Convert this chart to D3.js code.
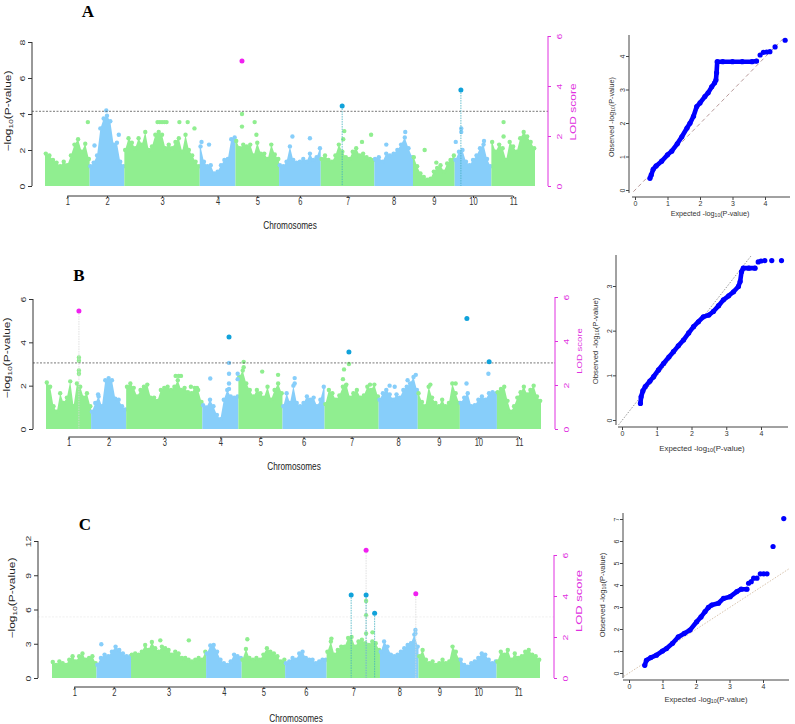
<!DOCTYPE html>
<html>
<head>
<meta charset="utf-8">
<script src="https://cdn.jsdelivr.net/npm/d3@7"></script>
<style>
body { margin: 0; background: #fff; }
svg { display: block; }
</style>
</head>
<body>
<script>
var chromNames = ["1","2","3","4","5","6","7","8","9","10","11"];
var chromLen = [45,35,76,36,44,42,54,39,42,37,44];

// upper edge of the dense point cloud per chromosome (-log10 p), left to right
var envA = [
  [1.8,1.7,1.45,1.3,1.1,1.35,1.15,1.7,2.3,2.6,1.9,2.35,1.5],
  [1.1,1.3,1.7,3.2,3.75,3.9,3.6,2.3,2.4,1.35,1.1],
  [2.0,2.65,2.4,2.1,2.65,2.3,3.0,2.0,2.2,2.85,3.0,2.85,2.1,2.3,2.1,2.45,2.65,1.9,2.85,2.0,1.7,1.35,1.1],
  [2.2,1.35,1.1,1.15,0.7,0.8,1.15,1.45,1.5,2.6,2.7],
  [2.5,2.1,2.3,2.2,2.3,1.7,2.4,1.8,1.8,1.5,2.3,1.75,1.5],
  [1.15,1.1,1.35,2.2,1.45,1.3,1.35,1.5,1.35,1.8,1.45,1.6,2.1],
  [1.5,1.7,1.45,1.35,1.7,2.3,1.9,1.6,1.5,1.9,2.1,1.7,1.8,1.6,1.5,1.45],
  [1.5,1.6,1.35,1.8,1.7,1.8,2.0,2.3,2.7,2.1,1.6],
  [1.6,1.1,0.7,0.5,0.35,0.4,0.8,1.0,1.15,0.8,1.25,1.45,1.7],
  [1.45,1.9,2.0,1.35,1.15,1.45,1.7,2.1,2.3,1.5,1.1],
  [2.45,1.9,2.3,2.1,1.45,2.45,2.2,1.9,2.65,3.0,2.75,2.45,2.1]
];
// loose markers above the cloud: [chromosome, position in chromosome 0-1, -log10 p]
var dotsA = [[1,0.96,3.55],[2,0.48,4.2],[2,0.84,2.85],[2,0.14,2.25],[3,0.44,3.55],[3,0.47,3.55],[3,0.5,3.55],
  [3,0.53,3.55],[3,0.56,3.55],[3,0.73,3.55],[3,0.84,3.55],[3,0.93,3.2],[4,0.05,2.45],[4,0.26,2.3],
  [5,0.15,4.0],[5,0.15,3.3],[5,0.44,3.55],[5,0.48,2.85],[6,0.32,2.75],[6,0.74,2.65],[7,0.44,3.05],
  [7,0.42,2.6],[7,0.94,2.85],[7,0.77,2.45],[8,0.8,3.0],[8,0.31,2.3],[9,0.28,2.0],[9,0.56,1.3],
  [10,0.18,3.2],[10,0.18,3.0],[10,0.03,2.45],[10,0.8,2.5],[11,0.28,3.55],[11,0.28,2.75]];
// significant hits: [chromosome, position, value, m=LOD / c=SNP, stem 0 none 1 solid 2 faint]
var hitsA = [[5,0.15,6.94,"m",0],[7,0.4,4.44,"c",1],[10,0.17,5.33,"c",1]];

var envB = [
  [2.15,1.95,1.05,0.8,1.65,1.2,1.45,2.2,1.05,2.1,1.95,1.45,1.65,1.05],
  [0.8,1.2,1.5,1.05,2.25,2.35,2.25,1.4,1.35,1.05,0.9],
  [1.95,2.1,1.9,1.5,1.8,1.95,2.05,1.45,1.45,1.3,1.8,1.9,1.95,1.8,1.95,2.25,1.8,1.9,1.7,1.65,1.9,1.8,1.25],
  [1.1,1.0,1.35,1.05,0.65,0.45,1.35,1.8,1.5,1.45,1.5],
  [2.4,2.7,2.1,1.8,1.5,1.8,1.65,1.45,1.95,1.35,1.8,2.1,1.65],
  [1.05,1.65,1.2,2.0,1.2,1.05,1.2,1.5,1.35,1.45,1.05,1.35,1.95],
  [1.15,1.8,1.65,1.35,1.55,1.95,2.05,1.45,1.65,1.8,1.45,1.55,1.95,1.8,2.05,1.5],
  [1.35,1.65,1.8,1.6,1.35,1.6,1.45,1.8,1.95,2.1,2.4,1.8],
  [1.65,1.25,1.05,1.95,1.45,1.2,1.05,1.35,1.05,1.2,2.1,1.65,1.2],
  [1.2,1.45,1.65,1.05,1.1,1.35,1.5,1.35,1.65,1.7,1.65],
  [1.7,1.85,1.95,1.3,0.8,1.05,1.45,1.7,1.95,1.6,1.8,2.0,1.5,1.3]
];
var dotsB = [[1,0.73,3.3],[1,0.73,3.15],[1,0.73,2.7],[1,0.73,2.55],[2,0.2,1.6],[3,0.65,2.45],[3,0.69,2.45],
  [3,0.72,2.45],[3,0.85,1.95],[3,0.93,1.9],[4,0.22,2.33],[4,0.74,3.05],[4,0.74,2.55],[4,0.74,2.1],
  [4,0.74,1.85],[4,0.98,2.55],[4,0.98,2.3],[5,0.12,3.1],[5,0.12,2.85],[5,0.54,2.65],[5,0.9,2.5],
  [6,0.29,2.35],[6,0.29,2.1],[7,0.45,3.0],[7,0.36,2.75],[7,0.34,2.3],[7,0.39,2.0],[7,0.84,2.05],
  [8,0.28,2.0],[8,0.41,1.95],[8,0.74,2.25],[8,0.95,2.5],[9,0.3,2.05],[9,0.9,2.1],[10,0.77,2.55],[10,0.18,2.1]];
var hitsB = [[1,0.73,5.45,"m",2],[4,0.74,4.25,"c",0],[7,0.45,3.55,"c",0],[10,0.19,5.1,"c",0],[10,0.79,3.1,"c",0]];

var envC = [
  [1.4,1.15,1.45,1.3,1.15,1.6,1.9,1.45,1.9,2.15,1.6,1.75,1.9,1.3],
  [1.15,1.75,2.05,1.9,2.3,2.75,2.45,2.15,1.9,1.9],
  [2.05,2.15,2.05,2.3,2.9,2.45,3.15,2.6,2.3,2.75,2.6,2.45,2.05,2.3,2.15,1.75,1.75,1.6,1.45,1.6,1.75,1.6,2.3],
  [2.15,2.85,2.9,2.3,1.6,1.3,1.15,1.45,2.05,1.9,1.75],
  [1.6,2.55,1.75,1.6,1.75,1.6,2.05,2.6,2.3,2.15,1.9,1.45,1.6],
  [1.3,1.45,1.75,1.6,2.15,2.3,1.75,1.6,1.6,1.3,1.45,1.6,1.6],
  [2.3,3.2,2.05,2.45,2.75,2.75,3.5,3.6,2.75,3.2,3.35,3.05,2.9,3.2,3.05,2.45],
  [2.3,3.2,2.75,2.05,1.9,2.05,2.3,2.6,2.9,3.05,3.8,2.75],
  [1.9,2.45,1.6,1.3,1.45,1.15,1.3,1.6,1.3,1.45,2.75,2.3,1.6],
  [1.6,1.15,1.0,1.3,1.45,1.75,2.15,2.05,1.6,1.3,1.45],
  [1.45,2.3,2.05,2.45,1.6,2.15,1.75,1.9,2.3,2.45,2.05,1.9,1.6]
];
var dotsC = [[2,0.14,2.95],[3,0.39,3.3],[3,0.77,3.3],[5,0.13,3.4],[7,0.74,6.75],[7,0.74,5.5],[7,0.74,3.9],
  [7,0.86,4.0],[7,0.09,3.45],[8,0.92,4.2],[8,0.92,3.9]];
var hitsC = [[7,0.46,7.28,"c",1],[7,0.74,11.2,"m",2],[7,0.74,7.28,"c",1],[7,0.9,5.67,"c",1],[8,0.93,7.37,"m",2]];

// QQ plots: [expected, observed]; dense part drawn as a band, tail as single dots
var qqLineA = [[0.46,0.35],[0.5,0.45],[0.56,0.62],[0.65,0.72],[0.82,0.86],[1.0,1.05],[1.13,1.16],[1.3,1.38],
  [1.44,1.59],[1.6,1.85],[1.69,1.99],[1.8,2.2],[1.9,2.49],[2.0,2.6],[2.15,2.79],[2.25,2.9],[2.36,3.08],
  [2.45,3.2],[2.49,3.28],[2.51,3.5],[2.53,3.83],[2.7,3.83],[3.0,3.83],[3.3,3.83],[3.6,3.83],[3.74,3.85]];
var qqTailA = [[3.85,4.03],[3.95,4.11],[4.05,4.12],[4.15,4.13],[4.31,4.27],[4.62,4.47]];
var qqLineB = [[0.53,0.37],[0.55,0.52],[0.6,0.65],[0.67,0.75],[0.8,0.87],[0.91,0.97],[1.05,1.12],[1.2,1.27],
  [1.35,1.41],[1.48,1.53],[1.62,1.66],[1.77,1.79],[1.92,1.95],[2.06,2.09],[2.2,2.2],[2.34,2.31],[2.5,2.35],
  [2.63,2.43],[2.78,2.56],[2.92,2.69],[3.07,2.78],[3.21,2.87],[3.35,2.99],[3.4,3.1],[3.44,3.32],[3.49,3.4],
  [3.65,3.4],[3.83,3.4]];
var qqTailB = [[3.92,3.54],[4.0,3.56],[4.11,3.57],[4.31,3.57],[4.59,3.57]];
var qqLineC = [[0.47,0.35],[0.52,0.58],[0.65,0.7],[0.82,0.81],[1.0,1.0],[1.12,1.11],[1.3,1.35],[1.47,1.64],
  [1.65,1.8],[1.82,1.95],[2.02,2.33],[2.15,2.55],[2.27,2.79],[2.37,2.98],[2.47,3.09],[2.67,3.17],[2.82,3.39],
  [3.02,3.47],[3.22,3.7],[3.35,3.81],[3.52,3.81]];
var qqTailC = [[3.57,4.08],[3.65,4.15],[3.72,4.31],[3.82,4.31],[3.92,4.51],[4.02,4.51],[4.12,4.51],[4.3,5.75],[4.62,7.02]];
var diagA = [[-0.05,-0.05],[4.62,4.58]];
var diagB = [[-0.1,-0.11],[3.73,3.69]];
var diagC = [[-0.15,-0.15],[4.8,4.76]];

var GREEN = "#90ee90", BLUE = "#87cefa", MAG = "#f020f0", CYAN = "#10a2da", LODCOL = "#e030e0";
var FONT = "'Liberation Sans', Arial, sans-serif";

var svg = d3.select("body").append("svg")
    .attr("width", 795)
    .attr("height", 724)
    .style("font-family", FONT);

var chromStart = [];
var acc = 0;
chromLen.forEach(function(l){ chromStart.push(acc); acc += l; });
var genomeLen = acc;
function gpos(chr, frac){ return chromStart[chr-1] + frac*chromLen[chr-1]; }

// text like "-log10(P-value)" with subscript
function logText(g, pre, tf, size, fill){
  var t = g.append("text")
    .attr("transform", tf)
    .attr("text-anchor", "middle")
    .attr("dominant-baseline", "central")
    .attr("font-size", size)
    .attr("fill", fill || "#222");
  t.append("tspan").text(pre + "log");
  t.append("tspan").attr("font-size", size*0.7).attr("dy", size*0.3).text("10");
  t.append("tspan").attr("dy", -size*0.3).text("(P-value)");
  return t;
}

function drawManhattan(p){
  var g = svg.append("g");
  var x = d3.scaleLinear().domain([0, genomeLen]).range([p.x0, p.x1]);
  var y = d3.scaleLinear().domain([0, p.ymax]).range([p.yb, p.yt]);
  var lod = d3.scaleLinear().domain([0, 6]).range([p.yb, p.lodTop]);
  var area = d3.area().x(function(d){ return x(d[0]); }).y0(y(0)).y1(function(d){ return y(d[1]); });

  p.env.forEach(function(vals, ci){
    var col = ci % 2 ? BLUE : GREEN;
    var s = chromStart[ci], L = chromLen[ci];
    var pts = vals.map(function(v, i){ return [s + 0.8 + (L - 1.6)*i/(vals.length - 1), v]; });
    var full = [[s, pts[0][1]]].concat(pts, [[s + L, pts[pts.length-1][1]]]);
    g.append("path").datum(full).attr("d", area).attr("fill", col);
    g.append("g").selectAll("circle").data(pts).join("circle")
      .attr("cx", function(d){ return x(d[0]); })
      .attr("cy", function(d){ return y(d[1]); })
      .attr("r", 2.2).attr("fill", col);
  });

  g.append("g").selectAll("circle").data(p.dots).join("circle")
    .attr("cx", function(d){ return x(gpos(d[0], d[1])); })
    .attr("cy", function(d){ return y(d[2]); })
    .attr("r", 2.2)
    .attr("fill", function(d){ return (d[0]-1) % 2 ? BLUE : GREEN; });

  // threshold
  g.append("line")
    .attr("x1", p.yAxisX).attr("x2", p.lodAxisX)
    .attr("y1", y(p.thr)).attr("y2", y(p.thr))
    .attr("stroke", p.thrColor).attr("stroke-width", 0.8).attr("stroke-dasharray", "2,1.5");

  // stems + hits
  g.append("g").selectAll("line").data(p.hits.filter(function(h){ return h[4]; })).join("line")
    .attr("x1", function(d){ return x(gpos(d[0], d[1])); })
    .attr("x2", function(d){ return x(gpos(d[0], d[1])); })
    .attr("y1", function(d){ return y(d[2]); })
    .attr("y2", y(0))
    .attr("stroke", function(d){ return d[4] === 1 ? "#40b0c0" : "#d8d8d8"; })
    .attr("stroke-width", 0.8)
    .attr("stroke-dasharray", "1.5,1");
  g.append("g").selectAll("circle").data(p.hits).join("circle")
    .attr("cx", function(d){ return x(gpos(d[0], d[1])); })
    .attr("cy", function(d){ return y(d[2]); })
    .attr("r", 2.5)
    .attr("fill", function(d){ return d[3] === "m" ? MAG : CYAN; });

  // left axis
  var ya = g.append("g").attr("transform", "translate(" + p.yAxisX + ",0)")
    .call(d3.axisLeft(y).tickValues(p.yticks).tickSize(4).tickSizeOuter(0).tickFormat(d3.format("d")));
  ya.attr("font-family", FONT);
  ya.select(".domain").attr("d", "M0," + y(0) + "V" + y(p.ymax)).attr("stroke", "#333");
  ya.selectAll(".tick line").attr("stroke", "#333");
  ya.selectAll("text").attr("x", 0).attr("dy", 0)
    .attr("text-anchor", "middle").attr("dominant-baseline", "central")
    .attr("transform", "translate(-9,0) rotate(-90) scale(1,0.72)")
    .attr("font-size", 10.5).attr("fill", "#333");

  // right LOD axis
  var la = g.append("g").attr("transform", "translate(" + p.lodAxisX + ",0)")
    .call(d3.axisRight(lod).tickValues([0,2,4,6]).tickSize(3).tickSizeOuter(0).tickFormat(d3.format("d")));
  la.attr("font-family", FONT);
  la.select(".domain").attr("d", "M0," + lod(0) + "V" + lod(6)).attr("stroke", LODCOL);
  la.selectAll(".tick line").attr("stroke", LODCOL);
  la.selectAll("text").attr("x", 0).attr("dy", 0)
    .attr("text-anchor", "middle").attr("dominant-baseline", "central")
    .attr("transform", "translate(12,0) rotate(-90) scale(1,0.72)")
    .attr("font-size", 10.5).attr("fill", LODCOL);

  // chromosome axis
  var centers = chromStart.map(function(s, i){ return s + chromLen[i]/2; });
  var xa = g.append("g").attr("transform", "translate(0," + p.xAxisY + ")")
    .call(d3.axisBottom(x).tickValues(centers).tickSize(2).tickSizeOuter(0)
      .tickFormat(function(d, i){ return chromNames[i]; }));
  xa.attr("font-family", FONT);
  xa.select(".domain").attr("d", "M" + x(centers[0]) + ",0H" + x(centers[centers.length-1])).attr("stroke", "#333");
  xa.selectAll(".tick line").attr("stroke", "#333");
  xa.selectAll("text").attr("y", 9).attr("dy", 0)
    .attr("transform", "scale(0.72,1)").attr("font-size", 10.5).attr("fill", "#333");

  g.append("text")
    .attr("transform", "translate(" + p.chromLabX + "," + p.chromLabY + ") scale(0.75,1)")
    .attr("text-anchor", "middle").attr("font-size", 11).attr("fill", "#222")
    .text("Chromosomes");

  logText(g, "\u2212", "translate(" + p.yLabX + "," + p.yLabY + ") rotate(-90) scale(1,0.72)", 12, "#222");

  g.append("text")
    .attr("transform", "translate(" + p.lodLabX + "," + p.lodLabY + ") rotate(-90) scale(1,0.72)")
    .attr("text-anchor", "middle").attr("dominant-baseline", "central")
    .attr("font-size", p.lodLabSize).attr("fill", LODCOL)
    .text("LOD score");

  g.append("text")
    .attr("x", p.letterX).attr("y", p.letterY)
    .attr("text-anchor", "middle")
    .attr("font-family", "'Liberation Serif', 'Times New Roman', serif")
    .attr("font-weight", "bold").attr("font-size", 17)
    .text(p.letter);
}

function drawQQ(q){
  var g = svg.append("g");
  var x = d3.scaleLinear().domain([0, 4]).range([q.x0, q.x4]);
  var y = d3.scaleLinear().domain([0, q.ytop]).range([q.y0, q.yt]);

  var xa = g.append("g").attr("transform", "translate(0," + q.axY + ")")
    .call(d3.axisBottom(x).tickValues([0,1,2,3,4]).tickSize(3).tickSizeOuter(0).tickFormat(d3.format("d")));
  xa.attr("font-family", FONT);
  xa.select(".domain").attr("d", "M" + q.axXl + ",0H" + q.axXr).attr("stroke", "#444");
  xa.selectAll(".tick line").attr("stroke", "#444");
  xa.selectAll("text").attr("y", 9).attr("dy", 0).attr("font-size", 7).attr("fill", "#333");

  var ya = g.append("g").attr("transform", "translate(" + q.axX + ",0)")
    .call(d3.axisLeft(y).tickValues(d3.range(0, q.ytick + 1)).tickSize(3).tickSizeOuter(0).tickFormat(d3.format("d")));
  ya.attr("font-family", FONT);
  ya.select(".domain").attr("d", "M0," + q.axYb + "V" + q.axYt).attr("stroke", "#444");
  ya.selectAll(".tick line").attr("stroke", "#444");
  ya.selectAll("text").attr("x", 0).attr("dy", 0)
    .attr("text-anchor", "middle").attr("dominant-baseline", "central")
    .attr("transform", "translate(-7,0) rotate(-90)")
    .attr("font-size", 7).attr("fill", "#333");

  g.append("line")
    .attr("x1", x(q.diag[0][0])).attr("y1", y(q.diag[0][1]))
    .attr("x2", x(q.diag[1][0])).attr("y2", y(q.diag[1][1]))
    .attr("stroke", q.diagColor).attr("stroke-width", 1).attr("stroke-dasharray", q.diagDash);

  var line = d3.line().x(function(d){ return x(d[0]); }).y(function(d){ return y(d[1]); });
  g.append("path").datum(q.line).attr("d", line)
    .attr("fill", "none").attr("stroke", "#0000ff").attr("stroke-width", 4.6)
    .attr("stroke-linejoin", "round").attr("stroke-linecap", "round");
  g.append("g").selectAll("circle").data(q.line.concat(q.tail)).join("circle")
    .attr("cx", function(d){ return x(d[0]); })
    .attr("cy", function(d){ return y(d[1]); })
    .attr("r", 2.6).attr("fill", "#0000ff");

  logText(g, "Expected -", "translate(" + q.expX + "," + q.expY + ")", q.labSize, "#333");
  logText(g, "Observed -", "translate(" + q.obsX + "," + q.obsY + ") rotate(-90)", q.labSize, "#333");
}

drawManhattan({env: envA, dots: dotsA, hits: hitsA, ymax: 8, yticks: [0,2,4,6,8], thr: 4.15, thrColor: "#555",
  x0: 45, x1: 535, yb: 186, yt: 42, lodTop: 36, yAxisX: 32, lodAxisX: 548, xAxisY: 196,
  chromLabX: 290, chromLabY: 229, yLabX: 8, yLabY: 111, lodLabX: 573, lodLabY: 112, lodLabSize: 12,
  letter: "A", letterX: 88, letterY: 17});
drawManhattan({env: envB, dots: dotsB, hits: hitsB, ymax: 6, yticks: [0,2,4,6], thr: 3.05, thrColor: "#555",
  x0: 46, x1: 541, yb: 429, yt: 299, lodTop: 297, yAxisX: 33, lodAxisX: 555, xAxisY: 437,
  chromLabX: 294, chromLabY: 470, yLabX: 7, yLabY: 358, lodLabX: 580, lodLabY: 351, lodLabSize: 9.5,
  letter: "B", letterX: 79, letterY: 281});
drawManhattan({env: envC, dots: dotsC, hits: hitsC, ymax: 12, yticks: [0,3,6,9,12], thr: 5.35, thrColor: "#ececec",
  x0: 52, x1: 540, yb: 678, yt: 541, lodTop: 555, yAxisX: 38, lodAxisX: 554, xAxisY: 687,
  chromLabX: 296, chromLabY: 722, yLabX: 12, yLabY: 598, lodLabX: 579, lodLabY: 601, lodLabSize: 13,
  letter: "C", letterX: 85, letterY: 530});

drawQQ({line: qqLineA, tail: qqTailA, diag: diagA, diagColor: "#b89a9a", diagDash: "4,3",
  x0: 635, x4: 765, y0: 190, yt: 56, ytop: 4, ytick: 4,
  axX: 629, axYt: 35, axYb: 193, axY: 197, axXl: 632, axXr: 790,
  expX: 710, expY: 213, obsX: 611, obsY: 117, labSize: 7.2});
drawQQ({line: qqLineB, tail: qqTailB, diag: diagB, diagColor: "#999", diagDash: "1.5,1.5",
  x0: 622, x4: 761, y0: 420, yt: 286, ytop: 3, ytick: 3,
  axX: 616, axYt: 255, axYb: 425, axY: 427, axXl: 618, axXr: 788,
  expX: 702, expY: 448, obsX: 595, obsY: 341, labSize: 7.8});
drawQQ({line: qqLineC, tail: qqTailC, diag: diagC, diagColor: "#d8c4ae", diagDash: "1.5,1.5",
  x0: 629, x4: 763, y0: 673, yt: 519, ytop: 7, ytick: 7,
  axX: 623, axYt: 513, axYb: 678, axY: 680, axXl: 623, axXr: 789,
  expX: 706, expY: 699, obsX: 602, obsY: 595, labSize: 7.6});
</script>
</body>
</html>
